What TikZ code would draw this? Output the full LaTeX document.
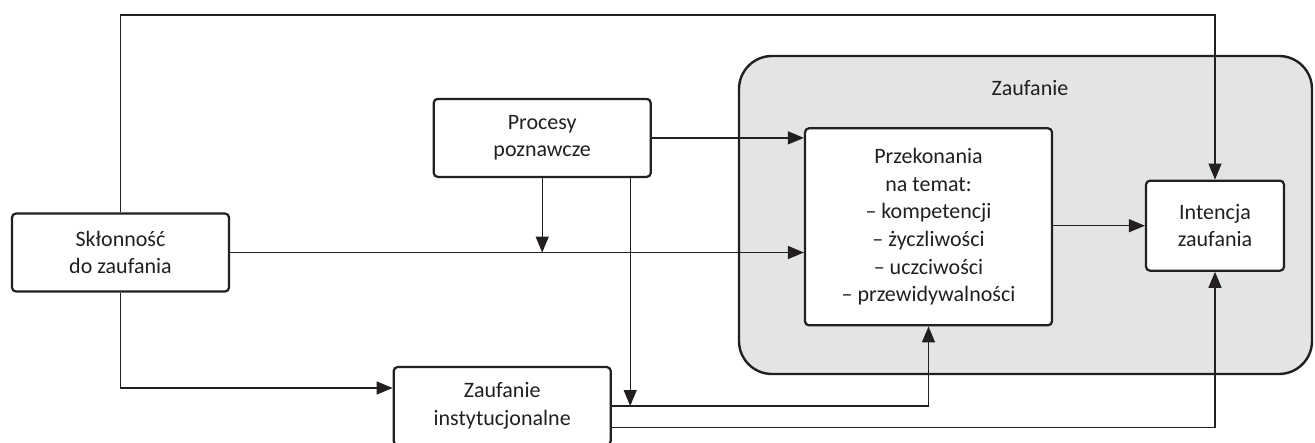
\documentclass[tikz,border=0pt]{standalone}
\usepackage{fontspec}
\setmainfont{Carlito}
\usetikzlibrary{arrows.meta,calc}
\definecolor{ink}{HTML}{231F20}
\definecolor{zgray}{HTML}{E3E4E6}
\begin{document}
\begin{tikzpicture}[x=1pt,y=-1pt,
  every node/.style={text=ink, font=\fontsize{22}{27.6}\selectfont},
  box/.style={draw=ink, line width=2.2pt, rounded corners=4pt, fill=white,
    align=center, inner sep=0pt, minimum width=217pt, minimum height=78pt},
  conn/.style={draw=ink, line width=1.3pt},
  arr/.style={conn, -{Triangle[length=16pt,width=13pt]}}]
\useasboundingbox (0,0) rectangle (1315,442);
\clip (0,0) rectangle (1315,442);
\fill[white] (0,0) rectangle (1315,442);
% outer trust container
\node[draw=ink, line width=2.4pt, fill=zgray, rounded corners=33pt, inner sep=0pt,
  minimum width=573pt, minimum height=318pt] (outer) at (1025.5,215) {};
\node (zlab) at (1030,88) {Zaufanie};
% boxes
\node[box] (skl) at (120.5,252.5) {Skłonność\\do zaufania};
\node[box] (proc) at (542.2,137.9) {Procesy\\poznawcze};
\node[box] (inst) at (502.2,406) {Zaufanie\\instytucjonalne};
\node[box, minimum width=247pt, minimum height=197pt] (prz) at (928.5,226.8)
  {Przekonania\\na temat:\\– kompetencji\\– życzliwości\\– uczciwości\\– przewidywalności};
\node[box, minimum width=138pt, minimum height=90pt] (int) at (1215,225.7)
  {Intencja\\zaufania};
\coordinate (topc) at (600,15);
% connectors
\draw[arr] (skl.north) |- (topc) -| (int.north);
\draw[arr] (skl.east) -- (skl.east -| prz.west);
\draw[arr] (skl.south) |- ([yshift=18pt]inst.west);
\draw[arr] (proc.south) -- (proc.south |- skl.east);
\draw[arr] (proc.east) -- (proc.east -| prz.west);
\draw[arr] ([xshift=88pt]proc.south) -- ([xshift=88pt]proc.south |- inst.east);
\draw[arr] (inst.east) -| (prz.south);
\draw[arr] ([yshift=-21.7pt]inst.east) -| (int.south);
\draw[arr] (int.west -| prz.east) -- (int.west);
\end{tikzpicture}
\end{document}
